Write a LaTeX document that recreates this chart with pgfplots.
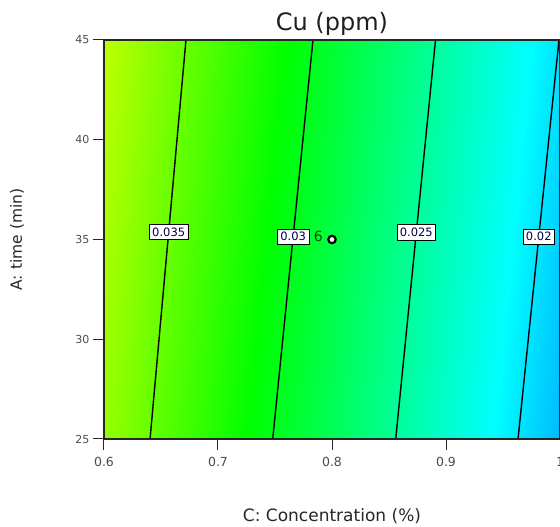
\documentclass[border=0pt]{standalone}
\usepackage{pgfplots}
\pgfplotsset{compat=1.18}
\usepackage{pgfplotstable}
\usepackage{fontspec}
\setmainfont{DejaVu Sans}

% response surface Cu (ppm)
\pgfplotstableread{
x y f
0.6 25 0.036873
0.7 25 0.032226
0.8 25 0.027579
0.9 25 0.022932
1.0 25 0.018285
0.6 35 0.037663
0.7 35 0.033016
0.8 35 0.028369
0.9 35 0.023722
1.0 35 0.019075
0.6 45 0.038453
0.7 45 0.033806
0.8 45 0.029159
0.9 45 0.024512
1.0 45 0.019865
}\cufield

\tikzset{lbl/.style={draw=black, line width=0.7pt, fill=white, inner xsep=3pt, inner ysep=3.2pt,
  font=\fontsize{11.5}{13}\selectfont, text=black!70!blue}}

\begin{document}
\begin{tikzpicture}
\begin{axis}[
  name=ax,
  scale only axis, width=456pt, height=399pt,
  xmin=0.6, xmax=1.0, ymin=25, ymax=45,
  xtick={0.6,0.7,0.8,0.9,1.0}, ytick={25,30,35,40,45},
  xticklabels={0.6,0.7,0.8,0.9,1},
  tick align=outside, tick pos=left, major tick length=11pt,
  axis on top, axis line style={line width=1.1pt, black!85},
  every tick/.style={line width=1pt, black!85},
  xticklabel style={font=\fontsize{12.5}{14}\selectfont, text=black!70, yshift=-4pt},
  yticklabel style={font=\fontsize{11}{13}\selectfont, text=black!70},
  /pgf/number format/assume math mode=true,
  colormap={de}{rgb255=(0,0,255) rgb255=(0,255,255) rgb255=(0,255,0) rgb255=(255,255,0) rgb255=(255,0,0)},
  point meta min=0.011, point meta max=0.051,
  title={Cu (ppm)},
  title style={font=\fontsize{24}{28}\selectfont, text=black!88, at={(axis description cs:0.5,1.008)}, anchor=base},
  xlabel={C: Concentration (\%)},
  xlabel style={font=\fontsize{17}{20}\selectfont, text=black!85, at={(axis description cs:0.5,-0.208)}, anchor=base},
  ylabel={A: time (min)},
  ylabel style={font=\fontsize{15.5}{18}\selectfont, text=black!85, at={(axis description cs:-0.1908,0.5)}, anchor=center},
]
\addplot[surf, shader=interp, mesh/cols=5, point meta=\thisrow{f}] table[x=x, y=y] {\cufield};

\addplot[black, line width=1.4pt] coordinates {(0.6404,25) (0.6719,45)} node[pos=0.519, lbl]{0.035};
\addplot[black, line width=1.4pt] coordinates {(0.7480,25) (0.7833,45)} node[pos=0.507, lbl]{0.03};
\addplot[black, line width=1.4pt] coordinates {(0.8559,25) (0.8908,45)} node[pos=0.518, lbl]{0.025};
\addplot[black, line width=1.4pt] coordinates {(0.9632,25) (0.9991,45)} node[pos=0.507, lbl]{0.02};

\addplot[only marks, mark=*, mark size=3.7pt, mark options={fill=white, draw=black, line width=2.2pt},
  point meta=explicit symbolic, nodes near coords,
  every node near coord/.append style={anchor=east, inner sep=0pt, xshift=-8pt, yshift=3.3pt,
    font=\fontsize{14}{16}\selectfont, text=black!70!green}]
  coordinates {(0.8,35) [6]};
\end{axis}
\pgfresetboundingbox
\path ([shift={(-104pt,-88pt)}]ax.south west) rectangle ([shift={(0pt,40pt)}]ax.north east);
\end{tikzpicture}
\end{document}
